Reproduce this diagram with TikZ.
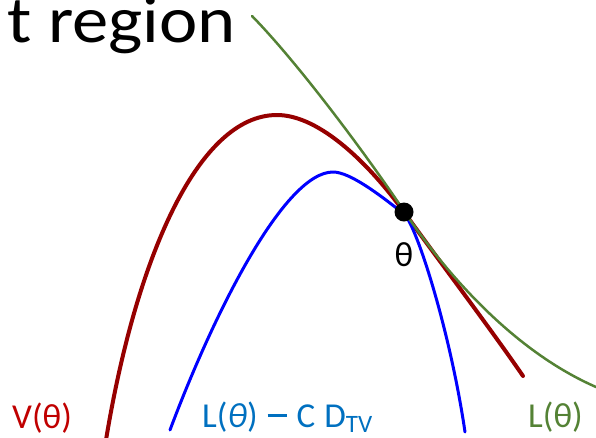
\documentclass[tikz,border=0pt]{standalone}
\usepackage{fontspec}
\setmainfont{Carlito}
\definecolor{vcurve}{RGB}{150,0,0}
\definecolor{vlabel}{RGB}{192,0,0}
\definecolor{bcurve}{RGB}{0,0,255}
\definecolor{blabel}{RGB}{0,112,192}
\definecolor{gcurve}{RGB}{84,130,53}
\begin{document}
\begin{tikzpicture}[x=1pt,y=-1pt,
  lbl/.style={inner sep=0pt,anchor=base west,font=\fontsize{35}{40}\selectfont},
  curve/.style={line cap=round,line join=round}]
\useasboundingbox (0,0) rectangle (596,437);
\begin{scope}
\clip (0,0) rectangle (596,437);
\node[inner sep=0pt,anchor=base east,xscale=1.1,font=\fontsize{66}{76}\selectfont] (title) at (236,42) {t region};
\end{scope}
% V(theta)
\draw[curve,vcurve,line width=4pt] (106,440) .. controls (136,258) and (198,115) .. (277,115)
  .. controls (320,115) and (370,165) .. (404,212)
  .. controls (440,262) and (490,328) .. (523,376);
% L - C D_TV
\draw[curve,bcurve,line width=3pt] (170,430) .. controls (215,310) and (285,172) .. (333,172)
  .. controls (350,172) and (380,195) .. (404,214)
  .. controls (416,224) and (450,330) .. (465,432);
% L(theta)
\draw[curve,gcurve,line width=2.5pt] (252,16) .. controls (300,65) and (370,160) .. (404,211)
  .. controls (430,250) and (500,345) .. (596,387);
\node[circle,fill=black,inner sep=0pt,minimum size=19pt] (dot) at (404,212) {};
\node[lbl,anchor=base] (th) at (404,266) {θ};
\node[lbl,text=vlabel] (vl) at (12,428) {V(θ)};
\node[lbl,text=blabel] (bl) at (202,427) {L(\textit{θ})\hspace{10pt}\rule[10pt]{19pt}{2.6pt}\hspace{10pt}C\hspace{9pt}D\raisebox{-5pt}{\fontsize{25}{28}\selectfont TV}};
\node[lbl,text=gcurve] (gl) at (528,427) {L(θ)};
\end{tikzpicture}
\end{document}
